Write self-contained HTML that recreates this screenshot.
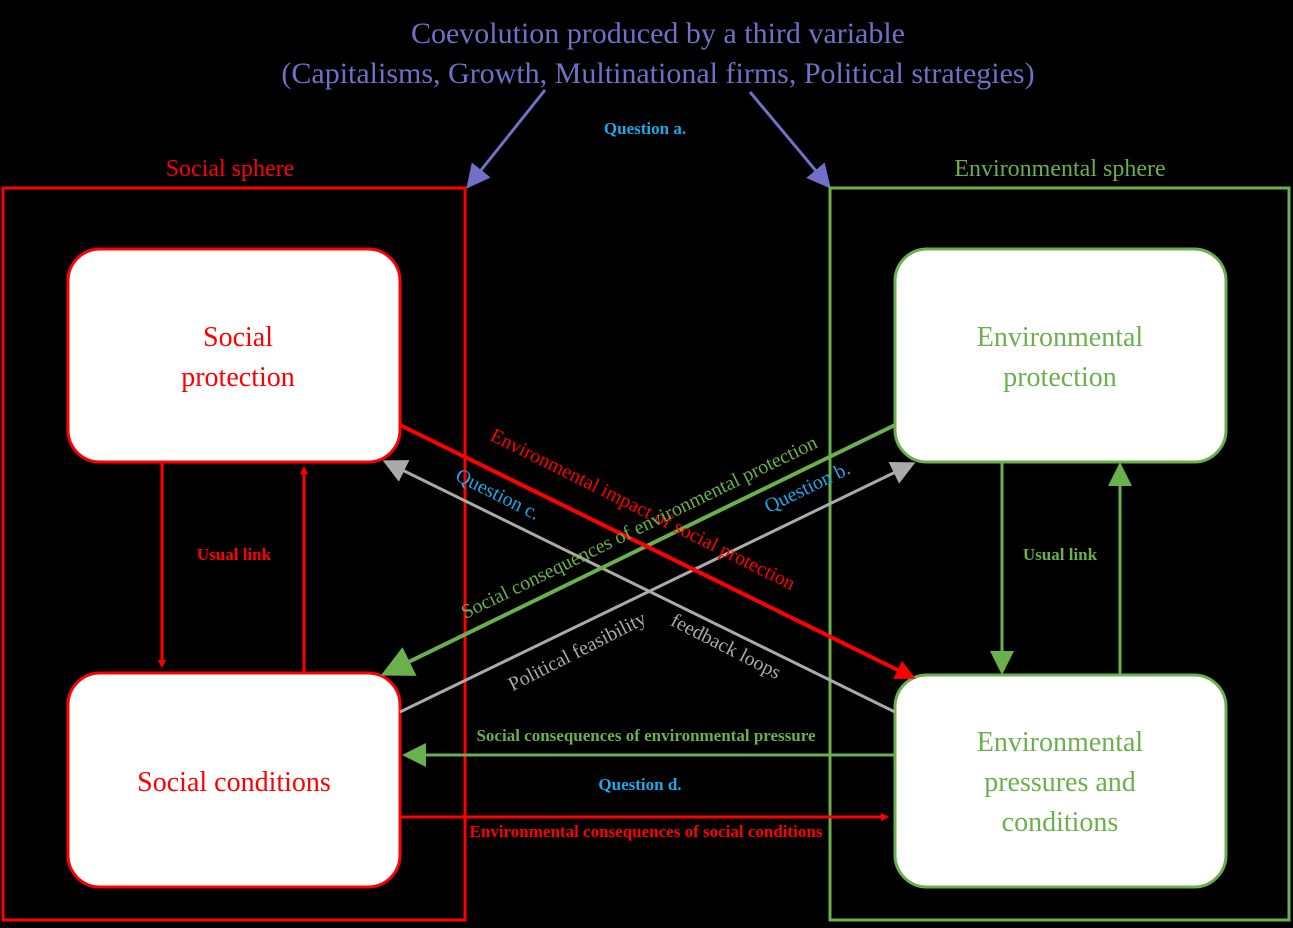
<!DOCTYPE html>
<html><head><meta charset="utf-8"><style>
html,body{margin:0;padding:0;background:#000;}
svg{display:block;font-family:"Liberation Serif",serif;}
</style></head><body>
<svg width="1293" height="928" viewBox="0 0 1293 928">
<defs>
<marker id="ar" markerWidth="8" markerHeight="8" refX="6" refY="4" orient="auto" markerUnits="userSpaceOnUse" viewBox="0 0 8 8"><path d="M0,0L8,4L0,8z" fill="#f00"/></marker>
<marker id="ag" markerWidth="8" markerHeight="8" refX="6" refY="4" orient="auto" viewBox="0 0 8 8"><path d="M0,0L8,4L0,8z" fill="#6ab04c"/></marker>
<marker id="ay" markerWidth="8" markerHeight="8" refX="6" refY="4" orient="auto" viewBox="0 0 8 8"><path d="M0,0L8,4L0,8z" fill="#aaa"/></marker>
<marker id="ap" markerWidth="8" markerHeight="8" refX="6" refY="4" orient="auto" viewBox="0 0 8 8"><path d="M0,0L8,4L0,8z" fill="#7070c8"/></marker>
<marker id="ar2" markerWidth="5" markerHeight="5" refX="4" refY="2.5" orient="auto" viewBox="0 0 5 5"><path d="M0,0L5,2.5L0,5z" fill="#f00"/></marker>
</defs>
<text x="658" y="43" text-anchor="middle" fill="#7070c8" font-size="30">Coevolution  produced  by  a  third  variable</text>
<text x="658" y="83" text-anchor="middle" fill="#7070c8" font-size="30">(Capitalisms,  Growth,  Multinational  firms,  Political  strategies)</text>
<line x1="545" y1="90" x2="470" y2="184" stroke="#7070c8" stroke-width="3" marker-end="url(#ap)"/>
<line x1="750" y1="92" x2="827" y2="184" stroke="#7070c8" stroke-width="3" marker-end="url(#ap)"/>
<text x="645" y="134" text-anchor="middle" fill="#1ea8e8" font-size="17" font-weight="bold">Question a.</text>
<text x="230" y="176" text-anchor="middle" fill="#f00" font-size="24">Social  sphere</text>
<text x="1060" y="176" text-anchor="middle" fill="#6ab04c" font-size="24">Environmental  sphere</text>
<rect x="3" y="188" width="462" height="732" fill="none" stroke="#f00" stroke-width="3"/>
<rect x="830" y="188" width="459" height="732" fill="none" stroke="#6ab04c" stroke-width="3"/>
<rect x="68" y="249" width="332" height="213" rx="32" fill="#fff" stroke="#f00" stroke-width="3"/>
<rect x="68" y="673" width="332" height="214" rx="32" fill="#fff" stroke="#f00" stroke-width="3"/>
<rect x="895" y="249" width="331" height="213" rx="32" fill="#fff" stroke="#6ab04c" stroke-width="3"/>
<rect x="895" y="675" width="331" height="212" rx="32" fill="#fff" stroke="#6ab04c" stroke-width="3"/>
<g font-size="28" text-anchor="middle">
<text x="238" y="346" fill="#f00">Social</text>
<text x="238" y="386" fill="#f00">protection</text>
<text x="234" y="791" fill="#f00">Social  conditions</text>
<text x="1060" y="346" fill="#6ab04c">Environmental</text>
<text x="1060" y="386" fill="#6ab04c">protection</text>
<text x="1060" y="751" fill="#6ab04c">Environmental</text>
<text x="1060" y="791" fill="#6ab04c">pressures  and</text>
<text x="1060" y="831" fill="#6ab04c">conditions</text>
</g>
<line x1="162" y1="462" x2="162" y2="666" stroke="#f00" stroke-width="3" marker-end="url(#ar)"/>
<line x1="304" y1="672" x2="304" y2="468" stroke="#f00" stroke-width="3" marker-end="url(#ar)"/>
<line x1="1002" y1="462" x2="1002" y2="669" stroke="#6ab04c" stroke-width="3" marker-end="url(#ag)"/>
<line x1="1120" y1="675" x2="1120" y2="468" stroke="#6ab04c" stroke-width="3" marker-end="url(#ag)"/>
<text x="234" y="560" text-anchor="middle" fill="#f00" font-size="17" font-weight="bold">Usual link</text>
<text x="1060" y="560" text-anchor="middle" fill="#6ab04c" font-size="17" font-weight="bold">Usual link</text>
<line x1="895" y1="712" x2="388" y2="463" stroke="#aaa" stroke-width="3" marker-end="url(#ay)"/>
<line x1="400" y1="712" x2="910" y2="465" stroke="#aaa" stroke-width="3" marker-end="url(#ay)"/>
<line x1="895" y1="425" x2="388" y2="672" stroke="#6ab04c" stroke-width="4" marker-end="url(#ag)"/>
<line x1="400" y1="425" x2="912" y2="677" stroke="#f00" stroke-width="4" marker-end="url(#ar2)"/>
<line x1="895" y1="755" x2="408" y2="755" stroke="#6ab04c" stroke-width="3" marker-end="url(#ag)"/>
<line x1="400" y1="817" x2="887" y2="817" stroke="#f00" stroke-width="3" marker-end="url(#ar)"/>
<text transform="translate(640,515) rotate(26.5)" text-anchor="middle" fill="#f00" font-size="20">Environmental  impact    of social protection</text>
<text transform="translate(642,533) rotate(-26)" text-anchor="middle" fill="#6ab04c" font-size="20">Social consequences of environmental protection</text>
<text transform="translate(495,500) rotate(26.5)" text-anchor="middle" fill="#1ea8e8" font-size="20">Question c.</text>
<text transform="translate(810,493) rotate(-26)" text-anchor="middle" fill="#1ea8e8" font-size="20">Question b.</text>
<text transform="translate(580,657) rotate(-27)" text-anchor="middle" fill="#aaa" font-size="20">Political feasibility</text>
<text transform="translate(723,652) rotate(27)" text-anchor="middle" fill="#aaa" font-size="20">feedback loops</text>
<text x="646" y="741" text-anchor="middle" fill="#6ab04c" font-size="17" font-weight="bold">Social consequences of environmental  pressure</text>
<text x="640" y="790" text-anchor="middle" fill="#1ea8e8" font-size="17" font-weight="bold">Question d.</text>
<text x="646" y="837" text-anchor="middle" fill="#f00" font-size="17" font-weight="bold">Environmental  consequences of social conditions</text>
</svg>
</body></html>
